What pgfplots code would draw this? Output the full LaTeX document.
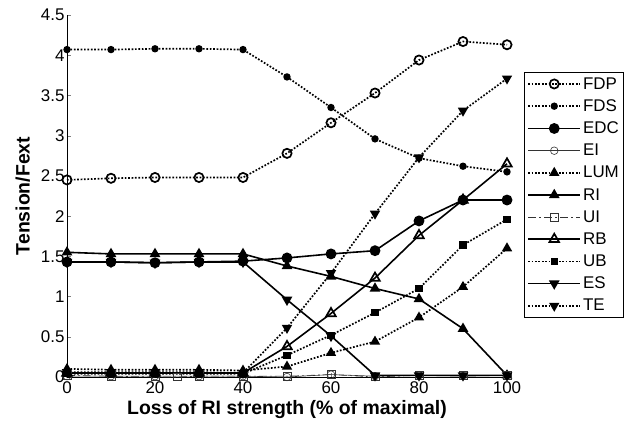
\documentclass[border=0pt]{standalone}
\usepackage{pgfplots}
\pgfplotsset{compat=1.18}
\usepackage{fontspec}
\setmainfont{Liberation Sans}
\begin{document}
\begin{tikzpicture}
\begin{axis}[
  scale only axis, width=440bp, height=362bp,
  xmin=0, xmax=100, ymin=0, ymax=4.5,
  axis lines*=left, axis line style={line width=0.8bp},
  tick align=inside, major tick length=4bp,
  xtick={0,20,40,60,80,100},
  ytick={0,0.5,1,1.5,2,2.5,3,3.5,4,4.5},
  yticklabels={0,0.5,1,1.5,2,2.5,3,3.5,4,4.5},
  /pgf/number format/assume math mode=true,
  tick label style={font=\fontsize{17}{19}\selectfont},
  xticklabel style={yshift=-1bp},
  yticklabel style={xshift=1bp},
  xlabel={\bfseries\fontsize{19.5}{21}\selectfont Loss of RI strength (\% of maximal)},
  ylabel={\bfseries\fontsize{19.5}{21}\selectfont Tension/Fext},
  xlabel style={yshift=0bp},
  ylabel style={yshift=4bp},
  clip=false,
  legend cell align=left,
  legend style={at={(axis description cs:1,1)}, anchor=north west, xshift=17bp, yshift=-57bp,
    font=\fontsize{17}{19}\selectfont, draw=black, line width=0.8bp,
    row sep=5bp, inner xsep=3bp, inner ysep=3bp},
  legend image code/.code={
    \draw[mark repeat=2,mark phase=2,#1] plot coordinates {(0bp,0bp) (26bp,0bp) (52bp,0bp)};
  },
  dots/.style={line width=1.7bp, dash pattern=on 1.7bp off 1.7bp},
]
% FDP
\addplot[black, dots, mark=o, mark size=4.6bp, mark options={solid, line width=1.7bp}]
 coordinates {(0,2.45)(10,2.47)(20,2.48)(30,2.48)(40,2.48)(50,2.78)(60,3.16)(70,3.53)(80,3.94)(90,4.17)(100,4.13)};
\addlegendentry{FDP}
% FDS
\addplot[black, dots, mark=*, mark size=2.8bp, mark options={solid}]
 coordinates {(0,4.07)(10,4.07)(20,4.08)(30,4.08)(40,4.07)(50,3.73)(60,3.35)(70,2.96)(80,2.72)(90,2.62)(100,2.55)};
\addlegendentry{FDS}
% EDC
\addplot[black, line width=1.6bp, mark=*, mark size=4.6bp, mark options={solid}]
 coordinates {(0,1.43)(10,1.43)(20,1.42)(30,1.43)(40,1.44)(50,1.48)(60,1.53)(70,1.57)(80,1.94)(90,2.20)(100,2.20)};
\addlegendentry{EDC}
% EI
\addplot[black!80, line width=0.6bp, mark=o, mark size=3.8bp, mark options={solid, fill=white}]
 coordinates {(0,0.01)(10,0.01)(20,0.01)(30,0.01)(40,0.01)(50,0.00)(60,0.03)(70,0.01)(80,0.02)(90,0.01)(100,0.02)};
\addlegendentry{EI}
% LUM
\addplot[black, dots, mark=triangle*, mark size=4.3bp, mark options={solid}]
 coordinates {(0,0.10)(10,0.09)(20,0.09)(30,0.09)(40,0.08)(50,0.13)(60,0.30)(70,0.44)(80,0.74)(90,1.12)(100,1.60)};
\addlegendentry{LUM}
% RI
\addplot[black, line width=1.6bp, mark=triangle*, mark size=4.6bp, mark options={solid}]
 coordinates {(0,1.55)(10,1.53)(20,1.53)(30,1.53)(40,1.53)(50,1.38)(60,1.25)(70,1.10)(80,0.97)(90,0.60)(100,0.02)};
\addlegendentry{RI}
% UI
\addplot[black!80, line width=0.6bp, dash pattern=on 8bp off 3bp on 2bp off 3bp, mark=square, mark size=3.8bp, mark options={solid}]
 coordinates {(0,0.02)(10,0.01)(20,0.00)(25,0.00)(30,0.01)(40,0.01)(50,0.01)(60,0.03)(70,0.00)(80,0.02)(90,0.02)(100,0.02)};
\addlegendentry{UI}
% RB
\addplot[black, line width=1.6bp, mark=triangle, mark size=5.5bp, mark options={solid, line width=1.7bp}]
 coordinates {(0,0.05)(10,0.05)(20,0.05)(30,0.05)(40,0.05)(50,0.38)(60,0.79)(70,1.23)(80,1.76)(90,2.20)(100,2.65)};
\addlegendentry{RB}
% UB
\addplot[black, dots, mark=square*, mark size=2.8bp, mark options={solid}]
 coordinates {(0,0.04)(10,0.04)(20,0.04)(30,0.04)(40,0.04)(50,0.27)(60,0.52)(70,0.80)(80,1.10)(90,1.64)(100,1.96)};
\addlegendentry{UB}
% ES
\addplot[black, line width=1.6bp, mark=triangle*, mark size=4.6bp, mark options={solid, rotate=180}]
 coordinates {(0,1.43)(10,1.43)(20,1.42)(30,1.43)(40,1.43)(50,0.96)(60,0.51)(70,0.02)(80,0.02)(90,0.02)(100,0.02)};
\addlegendentry{ES}
% TE
\addplot[black, dots, mark=triangle*, mark size=4.3bp, mark options={solid, rotate=180}]
 coordinates {(0,0.06)(10,0.06)(20,0.06)(30,0.06)(40,0.05)(50,0.61)(60,1.29)(70,2.03)(80,2.73)(90,3.31)(100,3.71)};
\addlegendentry{TE}
\end{axis}
\pgfresetboundingbox
\path (current axis.south west) ++(-67bp,-48bp) coordinate (bbA);
\path (current axis.north east) ++(120bp,15bp) coordinate (bbB);
\path[use as bounding box] (bbA) rectangle (bbB);
\end{tikzpicture}
\end{document}
